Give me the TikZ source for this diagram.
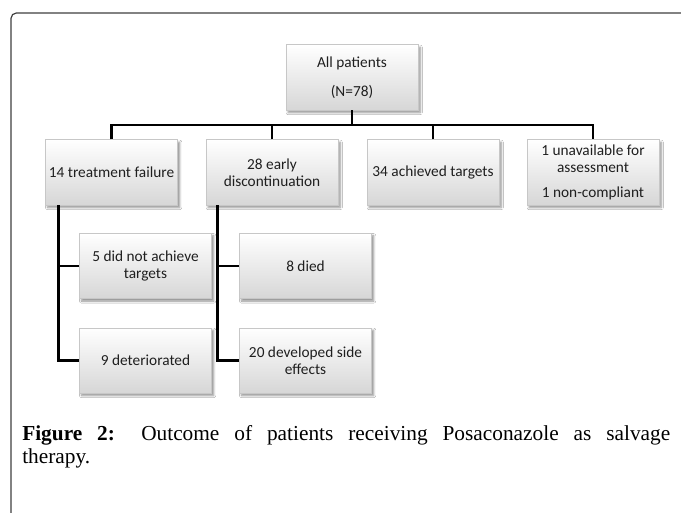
\documentclass[tikz,border=0pt]{standalone}
\usepackage{fontspec}
\setmainfont{Liberation Serif}
\newfontfamily\boxfont{Carlito}
\usetikzlibrary{shadows.blur}
\begin{document}
\begin{tikzpicture}[x=0.75pt,y=-0.75pt,
  boxnode/.style={draw=black!22, line width=0.5pt, top color=white, bottom color=black!16,
    minimum width=99pt, minimum height=49pt, inner sep=0pt, align=center,
    font=\boxfont\fontsize{11.5}{12.5}\selectfont, text=black!88,
    blur shadow={shadow xshift=1.6pt, shadow yshift=-1.8pt, shadow blur radius=1.6pt, shadow blur steps=6, shadow opacity=45}},
  conn/.style={draw=black, line width=2pt},
  frame/.style={draw=black!75, line width=0.9pt, rounded corners=4pt}]
\useasboundingbox (0,0) rectangle (681,513);
\fill[white] (0,0) rectangle (681,513);
\draw[frame] (681,13) -- (11,13) -- (11,514);

\node[boxnode] (root) at (352,77.5) {All patients\\[9pt](N=78)};
\node[boxnode] (n1) at (111.5,172.5) {14 treatment failure};
\node[boxnode] (n2) at (272,172.5) {28 early\\discontinuation};
\node[boxnode] (n3) at (433,172.5) {34 achieved targets};
\node[boxnode] (n4) at (593,172.5) {1 unavailable for\\assessment\\[6pt]1 non-compliant};
\node[boxnode] (m1) at (145.5,266) {5 did not achieve\\targets};
\node[boxnode] (m2) at (145.5,360.5) {9 deteriorated};
\node[boxnode] (m3) at (305.5,266) {8 died};
\node[boxnode] (m4) at (305.5,360.5) {20 developed side\\effects};

\coordinate (bus) at (352,125);
\draw[conn] (root.south) -- (bus);
\draw[conn] (n1.north) |- (bus) -| (n4.north);
\draw[conn] (n2.north) -- (n2.north |- bus);
\draw[conn] (n3.north) -- (n3.north |- bus);

\coordinate (t1) at ([xshift=9.75pt]n1.south west);
\coordinate (t2) at ([xshift=9pt]n2.south west);
\draw[conn] (t1) |- (m2.west);
\draw[conn] (m1.west) -- (t1 |- m1.west);
\draw[conn] (t2) |- (m4.west);
\draw[conn] (m3.west) -- (t2 |- m3.west);

\node[anchor=base west, inner sep=0pt, align=left, font=\fontsize{16}{17.25}\selectfont] (cap) at (22,463)
  {\makebox[486pt][s]{\textbf{Figure 2:} Outcome of patients receiving Posaconazole as salvage}\\therapy.};
\end{tikzpicture}
\end{document}
